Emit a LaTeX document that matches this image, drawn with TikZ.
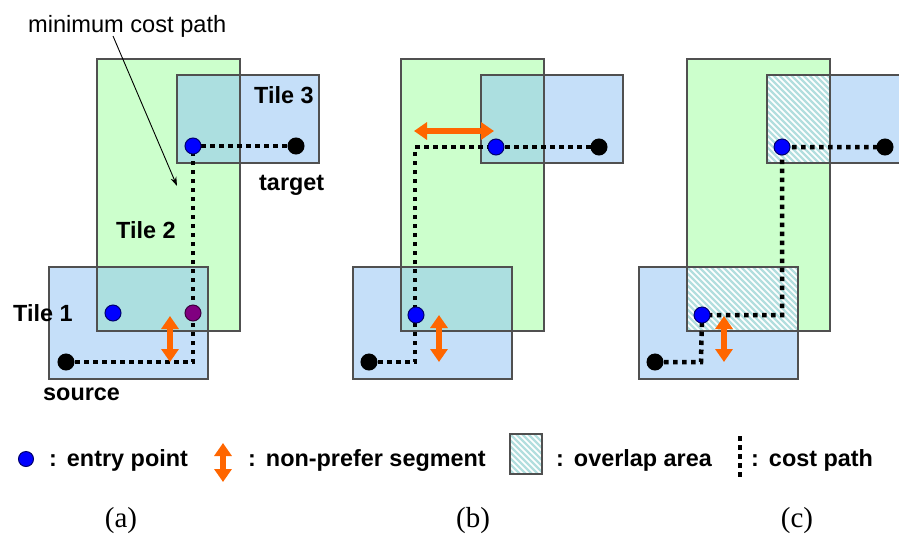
\documentclass[tikz,border=0pt]{standalone}
\usepackage{fontspec}
\setmainfont{Liberation Serif}
\setsansfont{Liberation Sans}
\usetikzlibrary{arrows.meta}

\definecolor{tilegreen}{RGB}{204,255,204}
\definecolor{tileblue}{RGB}{141,193,245}
\definecolor{edgegray}{RGB}{80,80,80}
\definecolor{entryblue}{RGB}{0,0,255}
\definecolor{entryedge}{RGB}{0,0,110}
\definecolor{viapurple}{RGB}{128,0,128}
\definecolor{viaedge}{RGB}{60,0,60}
\definecolor{arroworange}{RGB}{255,102,0}
\definecolor{hatchteal}{RGB}{178,222,222}

% white box with diagonal stripes marking an overlap area
\newcommand\overlaphatch[4]{%
  \fill[white] (#1,#2) rectangle (#3,#4);
  \begin{scope}
    \clip (#1,#2) rectangle (#3,#4);
    \foreach \s in {-120,-114,...,150}
      \draw[hatchline] (#1+\s,#2) -- ++(300,300);
  \end{scope}}

\begin{document}
\begin{tikzpicture}[x=1pt,y=-1pt,
  greentile/.style={fill=tilegreen},
  bluetile/.style={fill=tileblue, fill opacity=0.5},
  tileedge/.style={draw=edgegray, line width=1.3pt},
  hatchline/.style={draw=hatchteal, line width=2.2pt},
  costpath/.style={draw=black, line width=4.5pt, dash pattern=on 4.5pt off 4.5pt},
  dotbase/.style={circle, inner sep=0pt, minimum size=16pt, line width=1pt},
  entry/.style={dotbase, fill=entryblue, draw=entryedge},
  endpt/.style={dotbase, fill=black, draw=black},
  viapt/.style={dotbase, fill=viapurple, draw=viaedge},
  nonprefer/.style={draw=arroworange, line width=6pt,
    {Triangle[length=13pt,width=17pt]}-{Triangle[length=13pt,width=17pt]}},
  lbl/.style={font=\sffamily\bfseries\fontsize{23.4}{27}\selectfont, inner sep=0pt, anchor=base west},
  note/.style={font=\sffamily\fontsize{23.6}{27}\selectfont, inner sep=0pt, anchor=base west},
  panelcaption/.style={font=\rmfamily\fontsize{29}{34}\selectfont, inner sep=0pt, anchor=base}
]
\clip (0,0) rectangle (899,536);
\fill[white] (0,0) rectangle (899,536);

% ---------- tile fills ----------
\foreach \dx in {0,304,590} {
  \fill[greentile] (97+\dx,59) rectangle (240+\dx,331);
  \fill[bluetile] (177+\dx,75) rectangle (319+\dx,163);
  \fill[bluetile] (49+\dx,267) rectangle (208+\dx,379);
}

% overlap areas of panel (c)
\overlaphatch{767}{75}{830}{163}
\overlaphatch{687}{267}{798}{331}

% ---------- tile borders ----------
\foreach \dx in {0,304,590} {
  \draw[tileedge] (97+\dx,59) rectangle (240+\dx,331);
  \draw[tileedge] (177+\dx,75) rectangle (319+\dx,163);
  \draw[tileedge] (49+\dx,267) rectangle (208+\dx,379);
}

% ---------- panel (a) ----------
\coordinate (aS) at (66,362);
\coordinate (aK) at (193,362);
\coordinate (aV) at (193,313);
\coordinate (aE) at (193,146);
\coordinate (aT) at (296,146);
\draw[costpath] (aS) -- (aK) -- (aE) -- (aT);
\node[endpt] (aSrc) at (aS) {};
\node[endpt] (aTgt) at (aT) {};
\node[entry] (aEnt3) at (aE) {};
\node[viapt] (aVia) at (aV) {};
\node[entry] (aEnt1) at (113,313) {};
\coordinate (aUp) at (170,316);
\coordinate (aDn) at (170,362);
\draw[nonprefer] (aUp) -- (aDn);

\node[note] (mcp) at (28,32) {minimum cost path};
\coordinate (mcpTail) at (113,36);
\coordinate (mcpHead) at (177,186);
\draw[line width=0.9pt, -{Stealth[length=9pt,width=6pt]}] (mcpTail) -- (mcpHead);

\node[lbl] (t3) at (254,103) {Tile 3};
\node[lbl] (tgt) at (259,190) {target};
\node[lbl] (t2) at (116,238) {Tile 2};
\node[lbl] (t1) at (13,321) {Tile 1};
\node[lbl] (src) at (43,400) {source};

% ---------- panel (b) ----------
\coordinate (bS) at (369,362);
\coordinate (bK) at (415,362);
\coordinate (bV) at (416,315);
\coordinate (bC) at (415,147);
\coordinate (bE) at (496,147);
\coordinate (bT) at (599,147);
\draw[costpath] (bS) -- (bK) -- (bC) -- (bT);
\node[endpt] (bSrc) at (bS) {};
\node[endpt] (bTgt) at (bT) {};
\node[entry] (bEnt1) at (bV) {};
\node[entry] (bEnt3) at (bE) {};
\coordinate (bUp) at (439,315);
\coordinate (bDn) at (439,362);
\draw[nonprefer] (bUp) -- (bDn);
\coordinate (bL) at (414,131);
\coordinate (bR) at (494,131);
\draw[nonprefer] (bL) -- (bR);

% ---------- panel (c) ----------
\coordinate (cS) at (655,362);
\coordinate (cK) at (701,362);
\coordinate (cV) at (702,315);
\coordinate (cM) at (782,315);
\coordinate (cE) at (782,147);
\coordinate (cT) at (885,147);
\draw[costpath] (cS) -- (cK) -- (cV) -- (cM) -- (cE) -- (cT);
\node[endpt] (cSrc) at (cS) {};
\node[endpt] (cTgt) at (cT) {};
\node[entry] (cEnt1) at (cV) {};
\node[entry] (cEnt3) at (cE) {};
\coordinate (cUp) at (724,316);
\coordinate (cDn) at (724,362);
\draw[nonprefer] (cUp) -- (cDn);

% ---------- legend ----------
\node[dotbase, minimum size=15pt, fill=entryblue, draw=entryedge] (legDot) at (26,459) {};
\node[lbl] (legEntry) at (49,466) {:\hspace{10pt}entry point};
\coordinate (legUp) at (223,443);
\coordinate (legDn) at (223,482);
\draw[nonprefer] (legUp) -- (legDn);
\node[lbl] (legNon) at (248,466) {:\hspace{10pt}non-prefer segment};
\overlaphatch{510}{434}{542}{474}
\draw[tileedge] (510,434) rectangle (542,474);
\node[lbl] (legOver) at (556,466) {:\hspace{10pt}overlap area};
\coordinate (legTop) at (740,436);
\coordinate (legBot) at (740,479);
\draw[costpath] (legTop) -- (legBot);
\node[lbl] (legCost) at (751,466) {:\hspace{10pt}cost path};

% ---------- captions ----------
\node[panelcaption] (capA) at (121,527) {(a)};
\node[panelcaption] (capB) at (473,527) {(b)};
\node[panelcaption] (capC) at (797,527) {(c)};
\end{tikzpicture}
\end{document}
